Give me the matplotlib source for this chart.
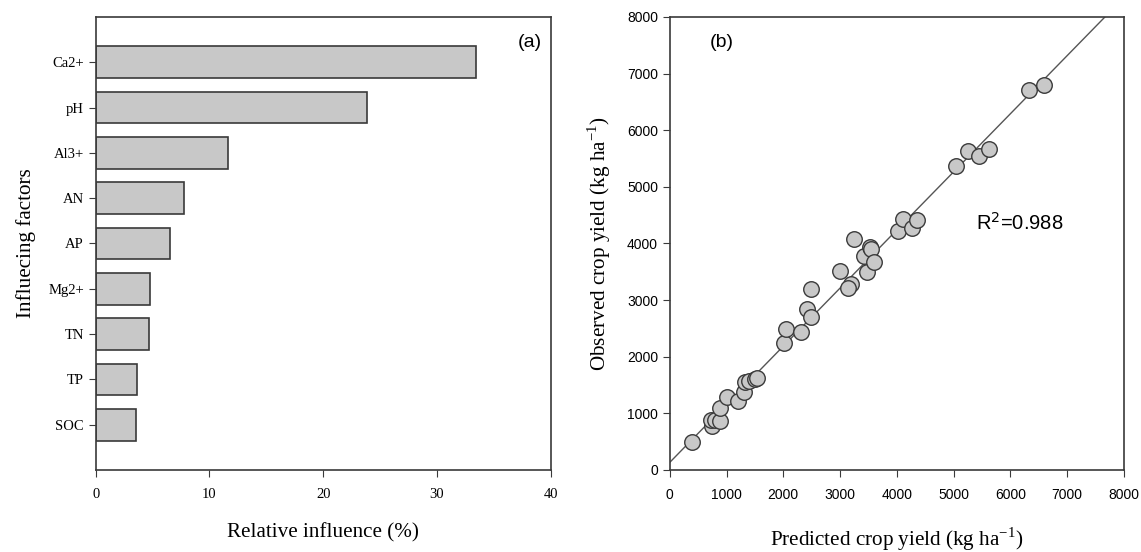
import matplotlib.pyplot as plt
import numpy as np

# (a) relative influence of each factor (%)
factors = ["Ca2+", "pH", "Al3+", "AN", "AP", "Mg2+", "TN", "TP", "SOC"]
influence = [33.45, 23.9, 11.65, 7.75, 6.55, 4.8, 4.65, 3.65, 3.55]

# (b) predicted vs observed crop yield (kg/ha)
predicted = [390, 740, 720, 790, 880, 880, 1000, 1210, 1300, 1320, 1400,
             1500, 1540, 2020, 2050, 2320, 2410, 2490, 2480, 3000, 3200,
             3140, 3240, 3470, 3430, 3520, 3550, 3600, 4020, 4110, 4260,
             4360, 5050, 5260, 5450, 5630, 6330, 6600]
observed = [490, 770, 890, 880, 860, 1100, 1280, 1210, 1380, 1550, 1570,
            1600, 1620, 2250, 2490, 2440, 2840, 2710, 3200, 3520, 3280,
            3210, 4080, 3500, 3770, 3940, 3900, 3680, 4220, 4440, 4270,
            4410, 5360, 5630, 5550, 5660, 6710, 6800]
fit_intercept = 134
fit_slope = 1.026
r2 = 0.988

serif = "Liberation Serif"
sans = "Liberation Sans"
edge = "#3a3a3a"
fill = "#c8c8c8"

plt.rcParams["mathtext.fontset"] = "custom"
plt.rcParams["mathtext.rm"] = serif

fig = plt.figure(figsize=(11.41, 5.52), dpi=100)

# ---- panel (a)
ax1 = fig.add_axes([0.0839, 0.1486, 0.3986, 0.8207])
ypos = np.arange(len(factors))
ax1.barh(ypos, influence, height=0.7, color=fill, edgecolor=edge, linewidth=1.2)
ax1.set_ylim(len(factors), -1)
ax1.set_xlim(0, 40)
ax1.set_yticks(ypos)
ax1.set_yticklabels(factors, family=serif, fontsize=10.5)
ax1.set_xticks([0, 10, 20, 30, 40])
ax1.set_xticklabels(["0", "10", "20", "30", "40"], family=serif, fontsize=10.5)
ax1.tick_params(direction="out", length=5, color=edge)
ax1.tick_params(axis="x", pad=8)
ax1.set_xlabel("Relative influence (%)", family=serif, fontsize=15.2, labelpad=16)
ax1.set_ylabel("Influecing factors", family=serif, fontsize=15.2, labelpad=9)
ax1.text(0.98, 0.943, "(a)", transform=ax1.transAxes, ha="right", va="center",
         family=sans, fontsize=14)
for s in ax1.spines.values():
    s.set_color(edge)
    s.set_linewidth(1.2)

# ---- panel (b)
ax2 = fig.add_axes([0.587, 0.1486, 0.398, 0.8207])
xl = np.array([0, 8000])
ax2.plot(xl, fit_intercept + fit_slope * xl, color="#555555", linewidth=1, zorder=1)
ax2.scatter(predicted, observed, s=125, color=fill, edgecolor=edge, linewidth=1, zorder=2)
ax2.set_xlim(0, 8000)
ax2.set_ylim(0, 8000)
ticks = np.arange(0, 8001, 1000)
ax2.set_xticks(ticks)
ax2.set_yticks(ticks)
ax2.set_xticklabels([str(t) for t in ticks], family=sans, fontsize=10)
ax2.set_yticklabels([str(t) for t in ticks], family=sans, fontsize=10)
ax2.tick_params(direction="out", length=5, color=edge)
ax2.tick_params(axis="x", pad=8)
ax2.set_xlabel("Predicted crop yield (kg ha$^{\\mathregular{-1}}$)", family=serif,
               fontsize=15.2, labelpad=17)
ax2.set_ylabel("Observed crop yield (kg ha$^{\\mathregular{-1}}$)", family=serif,
               fontsize=15.2, labelpad=10)
ax2.text(0.115, 0.943, "(b)", transform=ax2.transAxes, ha="center", va="center",
         family=sans, fontsize=14)
ax2.text(5400, 4360, "R$^{\\mathsf{2}}$=%.3f" % r2, family=sans, fontsize=14.5,
         va="center")
for s in ax2.spines.values():
    s.set_color(edge)
    s.set_linewidth(1.2)

fig.savefig("out.png", dpi=100)
